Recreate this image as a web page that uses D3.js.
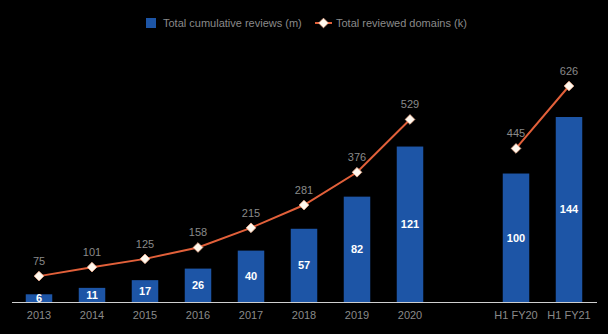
<!DOCTYPE html>
<html>
<head>
<meta charset="utf-8">
<script src="https://cdn.jsdelivr.net/npm/d3@7"></script>
<style>
  html, body { margin: 0; padding: 0; background: #000; }
  svg { display: block; }
</style>
</head>
<body>
<svg id="chart" width="608" height="334"></svg>
<script>
// Category slots along the x axis ("" is an empty spacer slot)
const categories = ["2013", "2014", "2015", "2016", "2017", "2018", "2019", "2020", "", "H1 FY20", "H1 FY21"];
// Total cumulative reviews (millions)
const reviews = [6, 11, 17, 26, 40, 57, 82, 121, null, 100, 144];
// Total reviewed domains (thousands)
const domains = [75, 101, 125, 158, 215, 281, 376, 529, null, 445, 626];
const legendLabels = ["Total cumulative reviews (m)", "Total reviewed domains (k)"];

const svg = d3.select("#chart");
const baseY = 302;

const x = d3.scaleBand().domain(categories.map((c, i) => i)).range([12.5, 595.5]).paddingInner(0.5).paddingOuter(0.25);
const yBar = d3.scaleLinear().domain([0, 144]).range([baseY, 117]);
const yLine = d3.scaleLinear().domain([0, 626]).range([baseY, 86]);

const barColor = "#1d55a6";
const lineColor = "#e2603a";
const textGrey = "#8a8a8a";

// Bars
const barData = reviews.map((v, i) => ({ v, i })).filter(d => d.v !== null);
svg.append("g").selectAll("rect").data(barData).join("rect")
  .attr("x", d => x(d.i))
  .attr("width", x.bandwidth())
  .attr("y", d => yBar(d.v))
  .attr("height", d => baseY - yBar(d.v))
  .attr("fill", barColor);

// Bar value labels, centred within each bar
svg.append("g").selectAll("text").data(barData).join("text")
  .attr("x", d => x(d.i) + x.bandwidth() / 2)
  .attr("y", d => (yBar(d.v) + baseY) / 2)
  .attr("dy", "0.36em")
  .attr("text-anchor", "middle")
  .attr("font-family", "Helvetica, Arial, 'Liberation Sans', sans-serif")
  .attr("font-size", 11)
  .attr("font-weight", "bold")
  .attr("fill", "#fff")
  .text(d => d.v);

// X axis baseline
svg.append("line")
  .attr("x1", 12).attr("x2", 597)
  .attr("y1", baseY + 0.5).attr("y2", baseY + 0.5)
  .attr("stroke", "#cfcfcf").attr("stroke-width", 1);

// X axis labels
const xAxis = d3.axisBottom(x).tickSize(0).tickPadding(9).tickFormat(i => categories[i]);
const gx = svg.append("g").attr("transform", `translate(0,${baseY})`).call(xAxis);
gx.select(".domain").remove();
gx.selectAll("text")
  .attr("font-family", "Helvetica, Arial, 'Liberation Sans', sans-serif")
  .attr("font-size", 11)
  .attr("fill", textGrey);

// Domains line, broken at the spacer slot
const lineData = domains.map((v, i) => ({ v, i }));
const line = d3.line()
  .defined(d => d.v !== null)
  .x(d => x(d.i) + x.bandwidth() / 2)
  .y(d => yLine(d.v));
svg.append("path")
  .datum(lineData)
  .attr("d", line)
  .attr("fill", "none")
  .attr("stroke", lineColor)
  .attr("stroke-width", 2);

const pts = lineData.filter(d => d.v !== null);
const diamond = d3.symbol().type(d3.symbolDiamond2).size(60);
svg.append("g").selectAll("path").data(pts).join("path")
  .attr("transform", d => `translate(${x(d.i) + x.bandwidth() / 2},${yLine(d.v)})`)
  .attr("d", diamond)
  .attr("fill", "#fff8ee")
  .attr("stroke", "#f0b090")
  .attr("stroke-width", 0.8);

svg.append("g").selectAll("text").data(pts).join("text")
  .attr("x", d => x(d.i) + x.bandwidth() / 2)
  .attr("y", d => yLine(d.v) - 11)
  .attr("text-anchor", "middle")
  .attr("font-family", "Helvetica, Arial, 'Liberation Sans', sans-serif")
  .attr("font-size", 11)
  .attr("fill", textGrey)
  .text(d => d.v);

// Legend
const lg = svg.append("g").attr("font-family", "Helvetica, Arial, 'Liberation Sans', sans-serif")
  .attr("font-size", 11).attr("fill", textGrey);
lg.append("rect").attr("x", 146).attr("y", 18).attr("width", 10).attr("height", 10).attr("fill", barColor);
lg.append("text").attr("x", 163).attr("y", 23).attr("dy", "0.36em").text(legendLabels[0]);
lg.append("line").attr("x1", 315).attr("x2", 332).attr("y1", 23).attr("y2", 23)
  .attr("stroke", lineColor).attr("stroke-width", 2);
lg.append("path").attr("transform", "translate(323.5,23)").attr("d", diamond)
  .attr("fill", "#fff8ee").attr("stroke", "#f0b090").attr("stroke-width", 0.8);
lg.append("text").attr("x", 336).attr("y", 23).attr("dy", "0.36em").text(legendLabels[1]);
</script>
</body>
</html>
